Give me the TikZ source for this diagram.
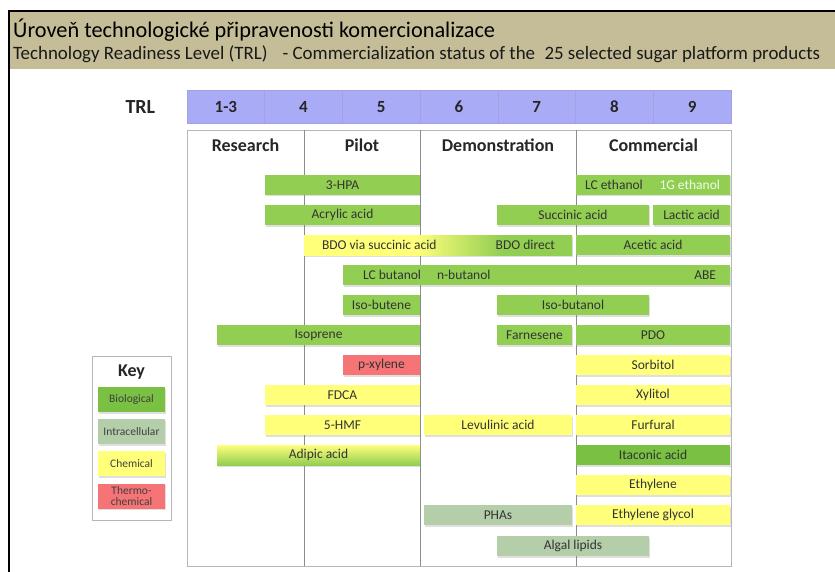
\documentclass[tikz,border=0pt]{standalone}
\usepackage{fontspec}
\setmainfont{Carlito}
\usetikzlibrary{positioning,shadows}
\definecolor{bannertan}{RGB}{196,189,151}
\definecolor{trlblue}{RGB}{170,171,246}
\definecolor{biogreen}{RGB}{146,206,82}
\definecolor{darkgreen}{RGB}{122,192,66}
\definecolor{chemyellow}{RGB}{255,255,122}
\definecolor{thermored}{RGB}{246,116,118}
\definecolor{cellgray}{RGB}{180,206,170}
\definecolor{panelgray}{RGB}{182,182,182}
\pgfdeclarehorizontalshading{bdoshade}{100bp}{color(0bp)=(chemyellow); color(46bp)=(chemyellow); color(62bp)=(biogreen); color(100bp)=(biogreen)}

\begin{document}
\begin{tikzpicture}[
  x=1pt, y=-1pt,
  panelline/.style={draw=panelgray, line width=0.8pt},
  divider/.style={draw=black!45, line width=0.8pt},
  trlcell/.style={fill=trlblue, draw=trlblue!80!gray, line width=0.6pt,
    minimum width=77.7, minimum height=33, inner sep=0pt,
    font=\bfseries\fontsize{17}{19}\selectfont, text=black!85},
  phase/.style={font=\bfseries\fontsize{18}{20}\selectfont, text=black!85},
  bar/.style={minimum height=20, inner sep=0pt, text=black!80,
    font=\fontsize{13.5}{15}\selectfont,
    drop shadow={shadow xshift=1pt, shadow yshift=-1.5pt, opacity=0.25}},
  bartext/.style={inner sep=0pt, text=black!80, font=\fontsize{13.5}{15}\selectfont},
  bio/.style={bar, fill=biogreen},
  chem/.style={bar, fill=chemyellow},
  thermo/.style={bar, fill=thermored},
  cell/.style={bar, fill=cellgray},
  swatch/.style={minimum width=67, minimum height=25, inner sep=0pt,
    align=center, text=black!75, font=\fontsize{11.5}{13}\selectfont,
    drop shadow={shadow xshift=1pt, shadow yshift=-1.5pt, opacity=0.25}}
]
\useasboundingbox (0,0) rectangle (835,572);

% Title banner and frame.
\fill[bannertan] (9,12) rectangle (835,69);
\draw[line width=2pt] (9,572) -- (9,11) -- (835,11);
\node[anchor=west, inner sep=0pt, font=\fontsize{22.3}{24}\selectfont] (title) at (13,30)
  {Úroveň technologické připravenosti komercionalizace};
\node[anchor=west, inner sep=0pt, font=\fontsize{18.9}{20}\selectfont, text=black!90] (subtitle) at (13,54)
  {Technology Readiness Level (TRL)\hspace{0.8em}- Commercialization status of the\hspace{0.5em}25 selected sugar platform products};

% TRL scale.
\foreach \lab [count=\i] in {1-3,4,5,6,7,8,9}
  \node[trlcell] (trl\i) at ({187+77.7*(\i-0.5)},107) {\lab};
\node[phase, font=\bfseries\fontsize{20}{22}\selectfont, left=28pt of trl1] (trl) {TRL};

% Phase panel.
\draw[panelline] (187,130) rectangle (731,566);
\draw[divider] (304,130) -- (304,566);
\draw[divider] (420,130) -- (420,566);
\draw[divider] (576,130) -- (576,566);
\node[phase] (research) at (245.5,145) {Research};
\node[phase] (pilot) at (362,145) {Pilot};
\node[phase] (demo) at (498,145) {Demonstration};
\node[phase] (commercial) at (653.5,145) {Commercial};

% Products.
\node[bio, minimum width=155] (hpa) at (342.5,185) {3-HPA};
\node[bio, minimum width=154] (ethanol) at (653,185) {};
\node[bartext, right=9pt of ethanol.west] (lceth) {LC ethanol};
\node[bartext, left=10pt of ethanol.east, text=green!8!white] (firstgen) {1G ethanol};

\node[bio, minimum width=155] (acrylic) at (342.5,215) {Acrylic acid};
\node[bio, minimum width=152] (succinic) at (573,215) {Succinic acid};
\node[bio, minimum width=77] (lactic) at (691.5,215) {Lactic acid};

\node[bar, shading=bdoshade, minimum width=268] (bdo) at (438,245) {};
\node[bartext, right=18pt of bdo.west] (bdovia) {BDO via succinic acid};
\node[bartext, left=17pt of bdo.east] (bdodirect) {BDO direct};
\node[bio, minimum width=154] (acetic) at (653,245) {Acetic acid};

\node[bio, minimum width=387] (butanol) at (536.5,275) {};
\node[bartext, right=20pt of butanol.west] (lcbut) {LC butanol};
\node[bartext, right=94pt of butanol.west] (nbut) {n-butanol};
\node[bartext, left=14pt of butanol.east] (abe) {ABE};

\node[bio, minimum width=77] (isobutene) at (381.5,305) {Iso-butene};
\node[bio, minimum width=152] (isobutanol) at (573,305) {Iso-butanol};

\node[bio, minimum width=203] (isoprene) at (318.5,335) {Isoprene};
\node[bio, minimum width=75] (farnesene) at (534.5,335) {Farnesene};
\node[bio, minimum width=154] (pdo) at (653,335) {PDO};

\node[thermo, minimum width=77] (pxylene) at (381.5,365) {p-xylene};
\node[chem, minimum width=154] (sorbitol) at (653,365) {Sorbitol};

\node[chem, minimum width=155] (fdca) at (342.5,395) {FDCA};
\node[chem, minimum width=154] (xylitol) at (653,395) {Xylitol};

\node[chem, minimum width=155] (hmf) at (342.5,425) {5-HMF};
\node[chem, minimum width=148] (levulinic) at (498,425) {Levulinic acid};
\node[chem, minimum width=154] (furfural) at (653,425) {Furfural};

\node[bar, top color=chemyellow, bottom color=biogreen, minimum width=203] (adipic) at (318.5,455) {Adipic acid};
\node[bio, fill=darkgreen, minimum width=154] (itaconic) at (653,455) {Itaconic acid};

\node[chem, minimum width=154] (ethylene) at (653,485) {Ethylene};

\node[cell, minimum width=148] (phas) at (498,515) {PHAs};
\node[chem, minimum width=154] (glycol) at (653,515) {Ethylene glycol};

\node[cell, minimum width=152] (algal) at (573,546) {Algal lipids};

% Key.
\node[panelline, minimum width=79, minimum height=164] (key) at (131.5,438) {};
\node[phase] (keytitle) at (131.5,372) {Key};
\node[swatch, fill=darkgreen] (keybio) at (131.5,399.5) {Biological};
\node[swatch, fill=cellgray] (keycell) at (131.5,431.5) {Intracellular};
\node[swatch, fill=chemyellow] (keychem) at (131.5,463.5) {Chemical};
\node[swatch, fill=thermored] (keythermo) at (131.5,496) {Thermo-\\[-2pt]chemical};

\end{tikzpicture}
\end{document}
